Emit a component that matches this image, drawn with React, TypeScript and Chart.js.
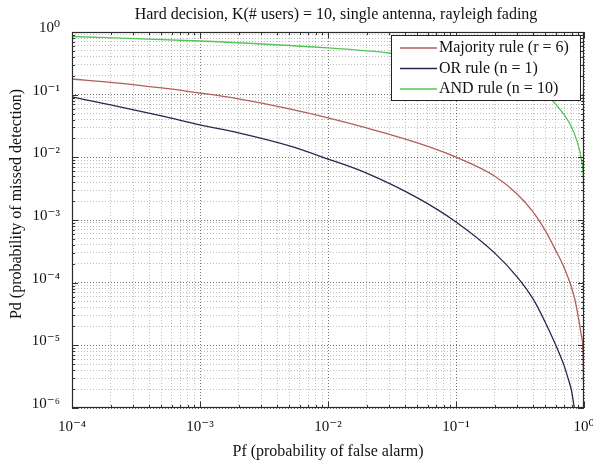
import React, { useEffect, useRef } from 'react';
import { Chart, registerables } from 'chart.js';

Chart.register(...registerables);

const TITLE = 'Hard decision, K(# users) = 10, single antenna, rayleigh fading';
const X_TITLE = 'Pf (probability of false alarm)';
const Y_TITLE = 'Pd (probability of missed detection)';
const SERIES_NAMES = ['Majority rule (r = 6)', 'OR rule (n = 1)', 'AND rule (n = 10)'];
const SERIES_COLORS = ['#b45c5c', '#26264f', '#55c655'];

const majorityPf = [1e-4, 2e-4, 5e-4, 1e-3, 2e-3, 5e-3, 1e-2, 2e-2, 5e-2, 0.1, 0.2, 0.3, 0.4, 0.5, 0.6, 0.7, 0.8, 0.85, 0.9, 0.95, 0.98, 0.99, 0.997];
const majorityPm = [0.178, 0.157, 0.128, 0.106, 0.0854, 0.0591, 0.0425, 0.0294, 0.017, 0.0101, 0.00505, 0.0026, 0.00135, 6.7e-4, 3.3e-4, 1.73e-4, 8.3e-5, 5.3e-5, 2.9e-5, 1.5e-5, 8.6e-6, 3.4e-6, 1e-6];

const orPf = [1e-4, 2e-4, 5e-4, 1e-3, 2e-3, 5e-3, 1e-2, 2e-2, 5e-2, 0.1, 0.2, 0.3, 0.4, 0.5, 0.6, 0.7, 0.75, 0.8, 0.84];
const orPm = [0.092, 0.0685, 0.0457, 0.0329, 0.0245, 0.0152, 0.0094, 0.0056, 0.00225, 9.3e-4, 2.99e-4, 1.24e-4, 5.5e-5, 2.3e-5, 1.02e-5, 4.7e-6, 3.0e-6, 1.87e-6, 1e-6];

const andPf = [1e-4, 1e-3, 1e-2, 3e-2, 0.1, 0.2, 0.3, 0.4, 0.5, 0.58, 0.7, 0.8, 0.9, 0.95, 0.98, 0.99, 0.995, 0.998, 0.9995];
const andPm = [0.848, 0.718, 0.556, 0.462, 0.33, 0.25, 0.19, 0.143, 0.103, 0.0765, 0.0475, 0.0305, 0.0158, 0.0098, 0.0063, 0.0043, 0.0021, 2.3e-4, 1e-6];

const X_EXPONENTS = [-4, -3, -2, -1, 0];
const Y_EXPONENTS = [-6, -5, -4, -3, -2, -1, 0];

const SUP: Record<string, string> = {
  '-': '\u207B', '0': '\u2070', '1': '\u00B9', '2': '\u00B2', '3': '\u00B3',
  '4': '\u2074', '5': '\u2075', '6': '\u2076', '7': '\u2077', '8': '\u2078', '9': '\u2079',
};
const powLabel = (e: number) => '10' + String(e).split('').map((c) => SUP[c]).join('');
const isPow = (v: number) => Math.abs(Math.log10(v) - Math.round(Math.log10(v))) < 1e-6;

function buildTicks(exps: number[]) {
  const out: { value: number }[] = [];
  for (let i = 0; i < exps.length - 1; i++) {
    for (let m = 1; m <= 9; m++) out.push({ value: m * Math.pow(10, exps[i]) });
  }
  out.push({ value: Math.pow(10, exps[exps.length - 1]) });
  return out;
}

const SERIF = '"Liberation Serif", "DejaVu Serif", serif';

const textPlugin = {
  id: 'customTexts',
  afterDraw(chart: any) {
    const { ctx } = chart;
    ctx.save();
    ctx.fillStyle = '#111';
    ctx.font = '16px ' + SERIF;
    ctx.textAlign = 'center';
    ctx.textBaseline = 'middle';
    ctx.fillText(TITLE, 336, 15);
    ctx.translate(17, 204);
    ctx.rotate(-Math.PI / 2);
    ctx.fillText(Y_TITLE, 0, 0);
    ctx.restore();
  },
};

const framePlugin = {
  id: 'frameAndLegend',
  afterDatasetsDraw(chart: any) {
    const { ctx, chartArea: a, scales } = chart;
    ctx.save();
    ctx.strokeStyle = '#333';
    ctx.lineWidth = 1;
    ctx.beginPath();
    scales.x.ticks.forEach((t: any) => {
      const px = Math.round(scales.x.getPixelForValue(t.value)) + 0.5;
      const len = isPow(t.value) ? 6 : 3;
      ctx.moveTo(px, a.bottom); ctx.lineTo(px, a.bottom - len);
      ctx.moveTo(px, a.top); ctx.lineTo(px, a.top + len);
    });
    scales.y.ticks.forEach((t: any) => {
      const py = Math.round(scales.y.getPixelForValue(t.value)) + 0.5;
      const len = isPow(t.value) ? 6 : 3;
      ctx.moveTo(a.left, py); ctx.lineTo(a.left + len, py);
      ctx.moveTo(a.right, py); ctx.lineTo(a.right - len, py);
    });
    ctx.stroke();
    ctx.strokeStyle = '#2a2a2a';
    ctx.lineWidth = 1.2;
    ctx.strokeRect(a.left + 0.5, a.top + 0.5, a.right - a.left - 1, a.bottom - a.top - 1);

    const lx = 391, ly = 35, lw = 189, lh = 65;
    ctx.fillStyle = '#ffffff';
    ctx.fillRect(lx, ly, lw, lh);
    ctx.strokeStyle = '#222';
    ctx.lineWidth = 1;
    ctx.strokeRect(lx + 0.5, ly + 0.5, lw, lh);
    ctx.font = '16px ' + SERIF;
    ctx.textBaseline = 'middle';
    ctx.textAlign = 'left';
    SERIES_NAMES.forEach((name, i) => {
      const y = ly + 13 + i * 20.5;
      ctx.strokeStyle = SERIES_COLORS[i];
      ctx.lineWidth = 1.3;
      ctx.beginPath();
      ctx.moveTo(lx + 9, y); ctx.lineTo(lx + 46, y);
      ctx.stroke();
      ctx.fillStyle = '#111';
      ctx.fillText(name, lx + 48, y);
    });
    ctx.restore();
  },
};

export default function App() {
  const ref = useRef<HTMLCanvasElement | null>(null);
  useEffect(() => {
    if (!ref.current) return;
    const mk = (pf: number[], pm: number[], i: number) => ({
      label: SERIES_NAMES[i],
      data: pf.map((x, k) => ({ x, y: pm[k] })),
      borderColor: SERIES_COLORS[i],
      backgroundColor: SERIES_COLORS[i],
      borderWidth: 1.3,
      pointRadius: 0,
      cubicInterpolationMode: 'monotone' as const,
      fill: false,
    });
    const gridColor = (c: any) => (c.tick && isPow(c.tick.value) ? 'rgba(0,0,0,0.55)' : 'rgba(0,0,0,0.25)');
    const labelCb = (v: any) => (isPow(Number(v)) ? powLabel(Math.round(Math.log10(Number(v)))) : '');
    const chart = new Chart(ref.current, {
      type: 'line',
      data: {
        datasets: [mk(majorityPf, majorityPm, 0), mk(orPf, orPm, 1), mk(andPf, andPm, 2)],
      },
      plugins: [framePlugin, textPlugin],
      options: {
        animation: false,
        responsive: false,
        layout: { padding: { left: 0, right: 9, top: 32, bottom: 0 } },
        plugins: {
          legend: { display: false },
          tooltip: { enabled: false },
          title: { display: false },
        },
        scales: {
          x: {
            type: 'logarithmic',
            min: 1e-4,
            max: 1,
            afterBuildTicks: (s: any) => { s.ticks = buildTicks(X_EXPONENTS); },
            afterFit: (s: any) => { s.height = 58; s.paddingLeft = 0; s.paddingRight = 0; },
            ticks: {
              autoSkip: false,
              maxRotation: 0,
              padding: 10,
              color: '#111',
              font: { family: SERIF, size: 15 },
              callback: labelCb,
            },
            grid: { color: gridColor, lineWidth: 1, drawTicks: false },
            border: { display: false, dash: [1, 2] },
            title: {
              display: true,
              text: X_TITLE,
              color: '#111',
              font: { family: SERIF, size: 16 },
              padding: { top: 0, bottom: 5 },
            },
          },
          y: {
            type: 'logarithmic',
            min: 1e-6,
            max: 1,
            afterBuildTicks: (s: any) => { s.ticks = buildTicks(Y_EXPONENTS); },
            afterFit: (s: any) => { s.width = 72; s.paddingTop = 0; s.paddingBottom = 0; },
            ticks: {
              autoSkip: false,
              padding: 12,
              labelOffset: -4,
              color: '#111',
              font: { family: SERIF, size: 15 },
              callback: labelCb,
            },
            grid: { color: gridColor, lineWidth: 1, drawTicks: false },
            border: { display: false, dash: [1, 2] },
            title: { display: false },
          },
        },
      } as any,
    });
    return () => chart.destroy();
  }, []);
  return (
    <div style={{ position: 'fixed', left: 0, top: 0, width: 593, height: 466, background: '#fff' }}>
      <canvas ref={ref} width={593} height={466} style={{ display: 'block' }} />
    </div>
  );
}
